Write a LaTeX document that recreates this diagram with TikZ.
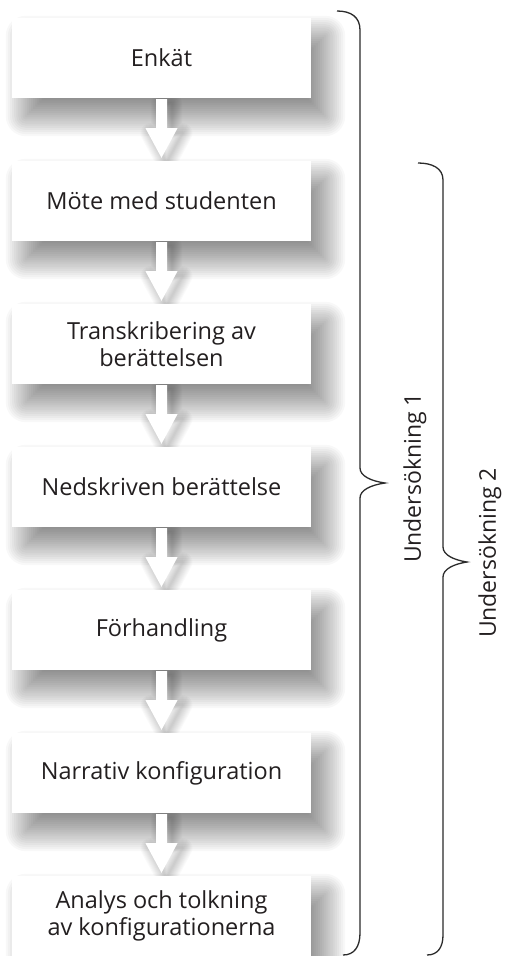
\documentclass[tikz,border=0pt]{standalone}
\usepackage{fontspec}
\setmainfont{Open Sans}
\usetikzlibrary{calc}
\pgfdeclarelayer{bg}
\pgfsetlayers{bg,main}
\definecolor{ink}{HTML}{231F20}
\definecolor{bracecol}{HTML}{2B2B2B}
\newcommand\boxshadow[1]{%
  \foreach \k in {0,...,19}{%
    \pgfmathsetmacro\e{20-40*\k/19}%
    \pgfmathsetmacro\rr{max(\e,0)+0.01}%
    \pgfmathsetmacro\xa{14-(\e)}\pgfmathsetmacro\ya{18-(\e)}%
    \pgfmathsetmacro\xb{14+(\e)}\pgfmathsetmacro\yb{18+(\e)}%
    \fill[black,opacity=0.027,rounded corners=\rr pt] ($(#1.north west)+(\xa,\ya)$) rectangle ($(#1.south east)+(\xb,\yb)$);
  }}
\newcommand\flowarrow[2]{%
  \foreach \k in {0,...,9}{%
    \pgfmathsetmacro\w{2*(10-\k)}%
    \draw[black,opacity=0.02,line width=\w pt,line join=round]
      ($(#1.south)+(-0.5,5)$) -- ($(#1.south)+(10.5,5)$) -- ($(#1.south)+(10.5,35)$) -- ($(#1.south)+(21,35)$) -- ($(#2.north)+(5,2)$) -- ($(#1.south)+(-11,35)$) -- ($(#1.south)+(-0.5,35)$) -- cycle;
  }%
  \fill[white] ($(#1.south)+(-5.5,1)$) -- ($(#1.south)+(5.5,1)$) -- ($(#1.south)+(5.5,30)$) -- ($(#1.south)+(16,30)$) -- ($(#2.north)+(0,-3)$) -- ($(#1.south)+(-16,30)$) -- ($(#1.south)+(-5.5,30)$) -- cycle;
}
\begin{document}
\begin{tikzpicture}[x=1pt,y=-1pt,
  stepbox/.style={fill=white, minimum width=299pt, minimum height=80pt, inner sep=0pt, align=center, font=\fontsize{23.5}{27}\selectfont, text=ink},
  bracepath/.style={draw=bracecol, line width=1.3pt},
  lbl/.style={rotate=90, font=\fontsize{23}{27}\selectfont, text=ink, inner sep=0pt}]
\useasboundingbox (0,0) rectangle (504,956);
\clip (0,0) rectangle (504,956);
\node[stepbox] (b1) at (161.5,58) {Enkät};
\node[stepbox] (b2) at (161.5,201) {Möte med studenten};
\node[stepbox] (b3) at (161.5,344) {Transkribering av\\berättelsen};
\node[stepbox] (b4) at (161.5,487) {Nedskriven berättelse};
\node[stepbox] (b5) at (161.5,630) {Förhandling};
\node[stepbox] (b6) at (161.5,773) {Narrativ konfiguration};
\node[stepbox] (b7) at (161.5,916) {Analys och tolkning\\av konfigurationerna};
\begin{pgfonlayer}{bg}
  \fill[white] (0,0) rectangle (504,956);
  \boxshadow{b1}\boxshadow{b2}\boxshadow{b3}\boxshadow{b4}\boxshadow{b5}\boxshadow{b6}\boxshadow{b7}
  \flowarrow{b1}{b2}\flowarrow{b2}{b3}\flowarrow{b3}{b4}\flowarrow{b4}{b5}\flowarrow{b5}{b6}\flowarrow{b6}{b7}
\end{pgfonlayer}
\coordinate (u1a) at (337,11);
\coordinate (u1t) at (385,483);
\coordinate (u1b) at (343,955);
\draw[bracepath] (u1a) .. controls (351,11) and (360,17) .. (360,30) -- (360,468) .. controls (360,476) and (371,481) .. (u1t) .. controls (371,485) and (360,490) .. (360,498) -- (360,933) .. controls (360,947) and (354,955) .. (u1b);
\coordinate (u2a) at (418,163);
\coordinate (u2t) at (467,562);
\coordinate (u2b) at (427,955);
\draw[bracepath] (u2a) .. controls (432,163) and (443,168) .. (443,180) -- (443,547) .. controls (443,555) and (454,560) .. (u2t) .. controls (454,564) and (443,569) .. (443,577) -- (443,935) .. controls (443,947) and (438,955) .. (u2b);
\node[lbl] (l1) at (415,478) {Undersökning 1};
\node[lbl] (l2) at (490,553) {Undersökning 2};
\end{tikzpicture}
\end{document}
